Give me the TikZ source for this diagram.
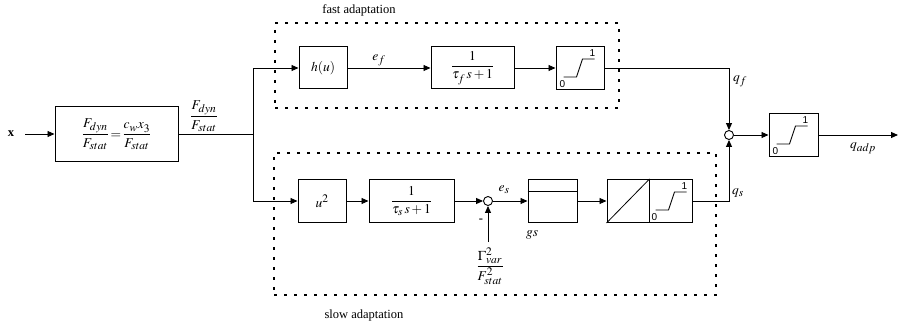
\documentclass[tikz,border=0pt]{standalone}
\usepackage{mathptmx}
\usepackage{amsmath}
\usepackage{fontspec}
\setmainfont{Liberation Serif}
\newfontfamily\sansdig{Liberation Sans}
\DeclareMathSizes{12.5}{13.5}{11.5}{9}
\usetikzlibrary{arrows.meta,calc}
\begin{document}
\begin{tikzpicture}[x=1pt,y=-1pt,
  font=\fontsize{12.5}{14}\selectfont,
  line width=0.9pt,
  blk/.style={draw, line width=1pt, inner sep=0pt, minimum height=43pt},
  arr/.style={-{Triangle[length=7pt,width=6pt]}},
  dotbox/.style={draw, line width=1.3pt, dash pattern=on 2.6pt off 7.4pt, inner sep=0pt},
  sumc/.style={circle, draw, minimum size=9pt, inner sep=0pt, line width=0.9pt},
  lbl/.style={inner sep=0pt},
  digit/.style={inner sep=0pt, font=\sansdig\fontsize{10}{10}\selectfont},
  satur/.pic={
    \draw[line width=0.9pt] (8,31) -- (21,31) -- (27,13) -- (39,13);
    \node[digit] (-one) at (37,7) {1};
    \node[digit] (-zero) at (7,38) {0};
  }]
\useasboundingbox (0,0) rectangle (900,326);

% dotted groups
\node[dotbox, minimum width=344pt, minimum height=85pt] (fastgrp) at (447,65.5) {};
\node[dotbox, minimum width=442pt, minimum height=142pt] (slowgrp) at (495,224) {};
\node[lbl] (fastlbl) at (359,10) {fast adaptation};
\node[lbl] (slowlbl) at (364,315) {slow adaptation};

% input
\node[lbl] (xin) at (11,134) {\textbf{x}};
\coordinate (xs) at (25,134);
\node[blk, minimum width=123pt, minimum height=55pt] (blk1) at (116.5,134)
  {$\dfrac{F_{dyn}}{F_{stat}}\!=\!\dfrac{c_w x_3}{F_{stat}}$};
\node[lbl] (flbl) at (204,116) {$\dfrac{F_{dyn}}{F_{stat}}$};
\coordinate (br) at (253,134);

% fast path
\node[blk, minimum width=48pt, minimum height=42pt] (hu) at (323,68) {$h(u)$};
\node[blk, minimum width=83pt, minimum height=42pt] (tf) at (472.5,68) {$\dfrac{1}{\tau_f\,s+1}$};
\node[blk, minimum width=48pt] (sat1) at (580,68) {};
\pic (s1) at (sat1.north west) {satur};
\node[lbl] (eflbl) at (379,60) {$e_f$};

% summation and output
\node[sumc] (sum1) at (729,135) {};
\node[blk, minimum width=49pt] (sat2) at (793.5,135) {};
\pic (s2) at (sat2.north west) {satur};
\coordinate (qout) at (898,135);
\node[lbl] (qflbl) at (740,81) {$q_f$};
\node[lbl] (qadplbl) at (863,148) {$q_{adp}$};
\node[lbl] (qslbl) at (738,193) {$q_s$};

% slow path
\node[blk, minimum width=48pt] (u2) at (322,201) {$u^2$};
\node[blk, minimum width=85pt] (ts) at (411.5,201) {$\dfrac{1}{\tau_s\,s+1}$};
\node[sumc] (sum2) at (488,201) {};
\node[lbl, font=\bfseries\fontsize{12.5}{14}\selectfont] (minus) at (481,221) {-};
\node[lbl] (gam) at (490,266) {$\dfrac{\Gamma_{var}^2}{F_{stat}^2}$};
\coordinate (gs0) at (488,242);
\node[lbl] (eslbl) at (504,190) {$e_s$};
\node[blk, minimum width=49pt] (gs) at (552.5,201) {};
\node[lbl] (gslbl) at (532,235) {$gs$};
\node[blk, minimum width=85pt] (lim) at (649.5,201) {};
\draw[line width=0.9pt] ($(gs.north west)+(0,12)$) -- ($(gs.north east)+(0,12)$);
\draw[line width=0.9pt] (lim.north) -- (lim.south);
\draw[line width=0.8pt] (lim.south west) -- (lim.north);
\pic (s3) at ($(lim.north)+(-2,0)$) {satur};

% connectors
\draw[arr] (xs) -- (blk1.west |- xs);
\draw (blk1.east |- br) -- (br);
\draw[arr] (br) |- (hu.west);
\draw[arr] (br) |- (u2.west);
\draw[arr] (hu) -- (tf);
\draw[arr] (tf) -- (sat1);
\draw[arr] (sat1.east) -| (sum1.north);
\draw[arr] (sum1) -- (sat2);
\draw[arr] (sat2) -- (qout);
\draw[arr] (u2) -- (ts);
\draw[arr] (ts) -- (sum2);
\draw[arr] (gs0) -- (sum2.south);
\draw[arr] (sum2) -- (gs);
\draw[arr] (gs) -- (lim);
\draw[arr] (lim.east) -| (sum1.south);
\end{tikzpicture}
\end{document}
